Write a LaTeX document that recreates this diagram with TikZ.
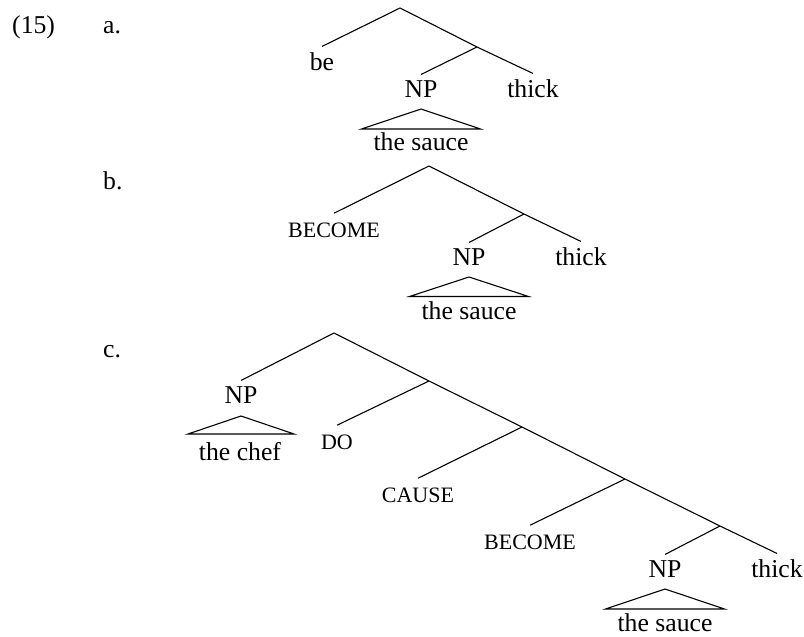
\documentclass[tikz,border=0pt]{standalone}
\usepackage{fontspec}
\setmainfont{Liberation Serif}
\begin{document}
\begin{tikzpicture}[x=1pt,y=-1pt,
  lbl/.style={anchor=base,inner xsep=0pt,inner ysep=5.5pt,font=\fontsize{25.7}{30}\selectfont},
  yield/.style={anchor=base,inner sep=0pt,font=\fontsize{25.7}{30}\selectfont},
  sc/.style={anchor=base,inner xsep=0pt,inner ysep=9pt,font=\fontsize{22}{26}\selectfont},
  num/.style={anchor=base west,inner sep=0pt,font=\fontsize{25.7}{30}\selectfont},
  edge/.style={line width=1.1pt,line join=miter},
  ]
\useasboundingbox (0,0) rectangle (804,637);

% labels
\node[num] (n15) at (12,33) {(15)};
\node[num] (la) at (103,33) {a.};
\node[num] (lb) at (103,189) {b.};
\node[num] (lc) at (103,357) {c.};

% tree a
\coordinate (a0) at (400,8);
\coordinate (a1) at (477,47);
\node[lbl] (abe) at (322,70) {be};
\node[lbl] (anp) at (421,97) {NP};
\node[lbl] (athick) at (533,97) {thick};
\node[yield] (asauce) at (421,150) {the sauce};
\draw[edge] (abe.north) -- (a0) -- (a1) -- (athick.north);
\draw[edge] (a1) -- (anp.north);
\draw[edge] ([yshift=-12pt]anp.base) -- ([shift={(59.5pt,-32pt)}]anp.base) -- ([shift={(-59.5pt,-32pt)}]anp.base) -- cycle;

% tree b
\coordinate (b0) at (429,166);
\coordinate (b1) at (524,214);
\node[sc] (bbec) at (334,237) {BECOME};
\node[lbl] (bnp) at (469,265) {NP};
\node[lbl] (bthick) at (581,265) {thick};
\node[yield] (bsauce) at (469,319) {the sauce};
\draw[edge] (bbec.north) -- (b0) -- (b1) -- (bthick.north);
\draw[edge] (b1) -- (bnp.north);
\draw[edge] ([yshift=-12pt]bnp.base) -- ([shift={(59.5pt,-31.5pt)}]bnp.base) -- ([shift={(-59.5pt,-31.5pt)}]bnp.base) -- cycle;

% tree c
\coordinate (c0) at (334,333);
\coordinate (c1) at (429,381);
\coordinate (c2) at (522,427);
\coordinate (c3) at (625,479);
\coordinate (c4) at (720,526);
\node[lbl] (cnp1) at (241,403) {NP};
\node[yield] (cchef) at (240,460) {the chef};
\node[sc] (cdo) at (337,449) {DO};
\node[sc] (ccause) at (418,502) {CAUSE};
\node[sc] (cbec) at (530,549) {BECOME};
\node[lbl] (cnp2) at (665,577) {NP};
\node[lbl] (cthick) at (777,577) {thick};
\node[yield] (csauce) at (665,631.5) {the sauce};
\draw[edge] (cnp1.north) -- (c0) -- (c1) -- (c2) -- (c3) -- (c4) -- (cthick.north);
\draw[edge] (c1) -- (cdo.north);
\draw[edge] (c2) -- (ccause.north);
\draw[edge] (c3) -- (cbec.north);
\draw[edge] (c4) -- (cnp2.north);
\draw[edge] ([yshift=-13pt]cnp1.base) -- ([shift={(53pt,-31pt)}]cnp1.base) -- ([shift={(-53pt,-31pt)}]cnp1.base) -- cycle;
\draw[edge] ([yshift=-12pt]cnp2.base) -- ([shift={(59.5pt,-32pt)}]cnp2.base) -- ([shift={(-59.5pt,-32pt)}]cnp2.base) -- cycle;
\end{tikzpicture}
\end{document}
